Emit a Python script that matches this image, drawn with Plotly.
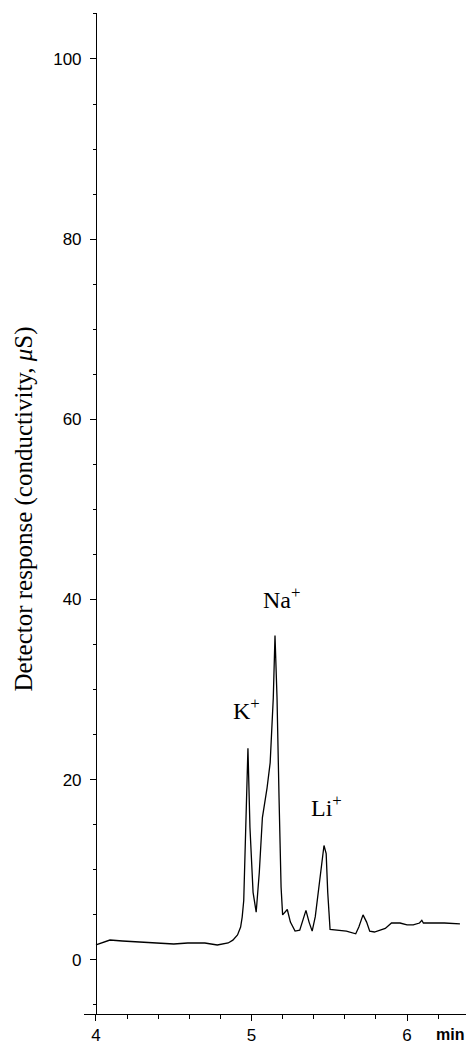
import plotly.graph_objects as go

# Chromatogram trace (time in min, detector response in µS)
time_min = [4.000, 4.02, 4.09, 4.17, 4.28, 4.46, 4.50, 4.59, 4.70, 4.78, 4.85, 4.88,
            4.91, 4.93, 4.94, 4.95, 4.965, 4.977, 4.99, 5.01, 5.03, 5.05, 5.07, 5.10,
            5.12, 5.14, 5.151, 5.164, 5.177, 5.19, 5.20, 5.23, 5.25, 5.28, 5.31, 5.33,
            5.35, 5.37, 5.39, 5.41, 5.43, 5.45, 5.466, 5.48, 5.49, 5.505, 5.57, 5.61,
            5.67, 5.69, 5.717, 5.74, 5.76, 5.79, 5.86, 5.90, 5.955, 6.00, 6.04, 6.08,
            6.095, 6.105, 6.17, 6.24, 6.34]
response = [1.66, 1.77, 2.21, 2.10, 1.99, 1.88, 1.77, 1.88, 1.88, 1.66, 1.88, 2.2,
            2.77, 3.65, 4.76, 6.6, 14.7, 23.5, 14.7, 7.5, 5.3, 9.7, 15.8, 19.1,
            21.9, 29.1, 36.0, 29.1, 18.0, 8.1, 5.0, 5.6, 4.2, 3.2, 3.3, 4.5,
            5.5, 4.2, 3.2, 4.8, 7.5, 10.8, 12.7, 11.8, 7.5, 3.4, 3.3, 3.2,
            2.9, 3.65, 5.0, 4.2, 3.2, 3.1, 3.5, 4.1, 4.1, 3.9, 3.9, 4.1,
            4.4, 4.1, 4.1, 4.1, 4.0]

y_ticks = [0, 20, 40, 60, 80, 100]
x_ticks = [4, 5, 6]
x_tick_labels = ["4", "5", "6"]

peak_labels = ["K<sup>+</sup>", "Na<sup>+</sup>", "Li<sup>+</sup>"]
peak_label_x = [4.965, 5.19, 5.479]
peak_label_y = [27.8, 40.2, 17.1]

x_range = [3.923, 6.379]
y_range = [-6.0, 105.1]

sans = "Arial, Liberation Sans, sans-serif"
serif = "Times New Roman, Liberation Serif, serif"

fig = go.Figure()
fig.add_trace(go.Scatter(
    x=time_min, y=response, mode="lines",
    line=dict(color="black", width=1.3),
    showlegend=False, hoverinfo="skip",
))

for txt, lx, ly in zip(peak_labels, peak_label_x, peak_label_y):
    fig.add_annotation(x=lx, y=ly, xref="x", yref="y", text=txt, showarrow=False,
                       font=dict(family=serif, size=24, color="black"),
                       xanchor="center", yanchor="middle")

fig.add_annotation(xref="paper", yref="paper", x=(24 - 84) / 382, y=(1017 - 511) / 1004,
                   text="Detector response (conductivity, <i>μ</i>S)", textangle=-90,
                   showarrow=False, font=dict(family=serif, size=25, color="black"),
                   xanchor="center", yanchor="middle")

fig.add_annotation(xref="paper", yref="paper", x=(450 - 84) / 382, y=(1017 - 1038) / 1004,
                   text="<b>min</b>", showarrow=False,
                   font=dict(family=sans, size=16, color="black"),
                   xanchor="center", yanchor="middle")

ypos = (4 - x_range[0]) / (x_range[1] - x_range[0])

fig.update_layout(
    width=466, height=1045,
    margin=dict(l=84, r=0, t=13, b=28),
    paper_bgcolor="white", plot_bgcolor="white",
    xaxis=dict(range=x_range, showgrid=False, zeroline=False, showline=True,
               linecolor="black", linewidth=1,
               tickmode="array", tickvals=x_ticks, ticktext=x_tick_labels,
               ticks="outside", ticklen=6, tickcolor="black", tickwidth=1,
               tickfont=dict(family=sans, size=17, color="black"),
               minor=dict(tick0=4, dtick=0.2, ticks="outside", ticklen=4,
                          tickcolor="black", showgrid=False)),
    yaxis=dict(range=y_range, showgrid=False, zeroline=False, showline=True,
               linecolor="black", linewidth=1, anchor="free", position=ypos,
               tickmode="array", tickvals=y_ticks,
               ticks="outside", ticklen=6, tickcolor="black", tickwidth=1,
               ticklabelstandoff=5,
               tickfont=dict(family=sans, size=17, color="black"),
               minor=dict(tick0=0, dtick=5, ticks="outside", ticklen=3,
                          tickcolor="black", showgrid=False)),
)

fig.write_html("out.html", config={"displayModeBar": False},
               post_script="document.body.style.margin='0';document.body.style.padding='0';")
